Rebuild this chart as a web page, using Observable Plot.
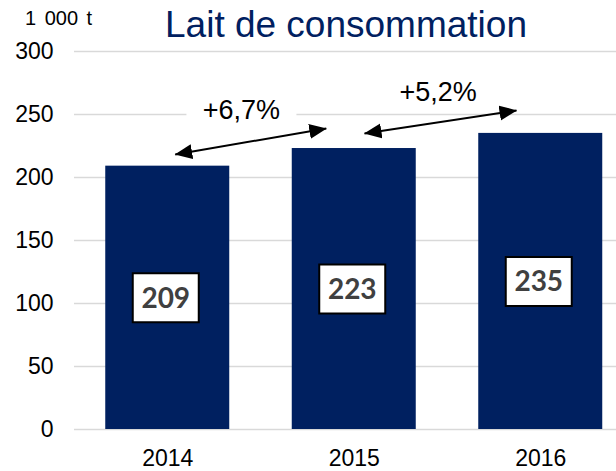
<!DOCTYPE html>
<html>
<head>
<meta charset="utf-8">
<script src="https://cdn.jsdelivr.net/npm/d3@7"></script>
<script src="https://cdn.jsdelivr.net/npm/@observablehq/plot@0.6"></script>
<style>
  html, body { margin: 0; padding: 0; background: #fff; }
  #wrap { position: relative; width: 616px; height: 471px; font-family: "Liberation Sans", Arial, sans-serif; }
  #title { position: absolute; left: 165px; top: 6px; font-size: 37px; line-height: 37px; color: #002060; white-space: nowrap; }
  #unit { position: absolute; left: 25px; top: 8px; font-size: 20px; line-height: 20px; color: #000; word-spacing: 3px; white-space: nowrap; }
  #chart { position: absolute; left: 0; top: 0; }
</style>
</head>
<body>
<div id="wrap">
  <div id="chart"></div>
  <div id="unit"></div>
  <div id="title"></div>
</div>
<script>
// ---- data ----
const title = "Lait de consommation";
const unit = "1 000 t";
const years = [2014, 2015, 2016];
const values = [209, 223, 235];
const yTicks = [0, 50, 100, 150, 200, 250, 300];
// growth annotations: arrow endpoints in (year, value) coordinates
const growthLabels = ["+6,7%", "+5,2%"];
const arrowX1 = [2014.04, 2015.055];
const arrowY1 = [218.3, 234.9];
const arrowX2 = [2014.85, 2015.87];
const arrowY2 = [238.9, 253.2];
const labelX = [2014.395, 2015.45];
const labelY = [253.6, 267.9];

// ---- build tables ----
const bars = years.map((year, i) => ({year, value: values[i]}));
const arrows = growthLabels.map((label, i) => ({
  label, x1: arrowX1[i], y1: arrowY1[i], x2: arrowX2[i], y2: arrowY2[i], lx: labelX[i], ly: labelY[i]
}));

document.getElementById("title").textContent = title;
document.getElementById("unit").textContent = unit;

const navy = "#002060";

// filled triangular arrow head marker
function triHead(color) {
  const m = d3.create("svg:marker")
    .attr("viewBox", "-17 -8 18 16")
    .attr("markerWidth", 18)
    .attr("markerHeight", 16)
    .attr("markerUnits", "userSpaceOnUse")
    .attr("orient", "auto-start-reverse")
    .attr("refX", 0)
    .attr("refY", 0)
    .attr("fill", color)
    .attr("stroke", "none");
  m.append("path").attr("d", "M-17,-7.5L0.5,0L-17,7.5Z");
  return m.node();
}

// rectangular symbols for label boxes
const valueBox = {draw(ctx) { ctx.rect(-33, -24.5, 66, 49); }};
const growthBox = {draw(ctx) { ctx.rect(-55, -15, 110, 30); }};

const chart = Plot.plot({
  width: 616,
  height: 471,
  marginTop: 51,
  marginBottom: 42,
  marginLeft: 74,
  marginRight: 0,
  style: {fontFamily: "'Liberation Sans', Arial, sans-serif", fontSize: "23px", color: "#000", background: "transparent"},
  x: {domain: [2013.5, 2016.5], range: [74, 633.5], ticks: years, tickFormat: "d", tickSize: 0, tickPadding: 20, label: null},
  y: {domain: [0, 300], ticks: yTicks, tickSize: 0, tickPadding: 21, label: null},
  marks: [
    Plot.ruleY(yTicks, {stroke: "#d9d9d9", strokeWidth: 1.5}),
    Plot.rectY(bars, {x1: d => d.year - 0.5, x2: d => d.year + 0.5, y: "value", fill: navy, insetLeft: 31.25, insetRight: 31.25}),
    Plot.dot(bars, {x: "year", y: d => d.value / 2, symbol: valueBox, fill: "#fff", stroke: "#000", strokeWidth: 2, dx: -2}),
    Plot.text(bars, {x: "year", y: d => d.value / 2, text: d => String(d.value), dx: -2, dy: 1, fontSize: 28, fontWeight: "bold", fill: "#404040", fontFamily: "Lato, 'Open Sans', sans-serif"}),
    Plot.link(arrows, {x1: "x1", y1: "y1", x2: "x2", y2: "y2", stroke: "#000", strokeWidth: 2, markerStart: triHead, markerEnd: triHead}),
    Plot.dot(arrows, {x: "lx", y: "ly", symbol: growthBox, fill: "#fff", stroke: "none"}),
    Plot.text(arrows, {x: "lx", y: "ly", text: "label", fontSize: 27, fill: "#000"})
  ]
});
document.getElementById("chart").appendChild(chart);
</script>
</body>
</html>
